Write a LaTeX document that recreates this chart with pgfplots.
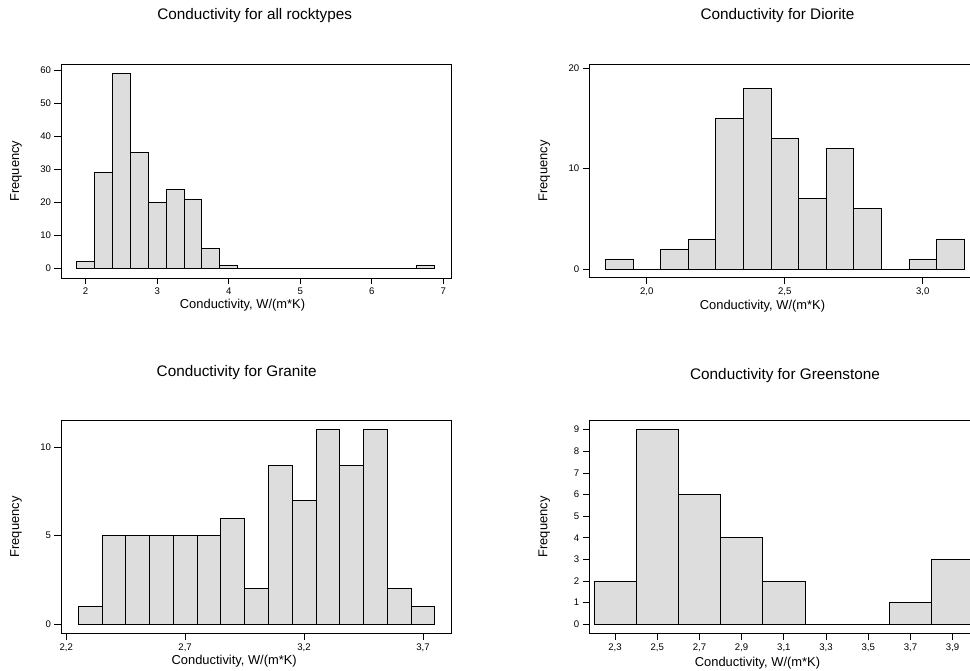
\documentclass[border=0pt]{standalone}
\usepackage{fontspec}
\setmainfont{Liberation Sans}
\usepackage{pgfplots}
\pgfplotsset{compat=1.18}
\definecolor{barfill}{RGB}{221,221,221}
\pgfplotsset{
  hist/.style={
    scale only axis,
    axis line style={black, line width=0.9pt},
    tick align=outside,
    xtick pos=bottom, ytick pos=left,
    major tick length=6.5pt,
    tick style={black, line width=0.8pt},
    /pgf/number format/assume math mode=true,
    tick label style={font=\fontsize{9.6}{10.5}\selectfont},
    label style={font=\fontsize{12.9}{14}\selectfont},
    title style={font=\fontsize{15.3}{17}\selectfont, anchor=base},
    ylabel={Frequency},
    xlabel={Conductivity, W/(m*K)},
    ylabel style={at={(axis description cs:-0.1152,0.5)}, anchor=center},
    xlabel style={anchor=base},
    clip=false,
  },
  bars/.style={ybar interval, fill=barfill, draw=black, line width=0.8pt},
}
\begin{document}
\begin{tikzpicture}[x=1pt,y=1pt]
% ---- Panel 1: all rocktypes
\begin{axis}[hist,
  at={(61pt,393pt)}, anchor=south west,
  width=390.7pt, height=213.7pt,
  xmin=1.655, xmax=7.119, ymin=-2.94, ymax=61.82,
  xtick={2,3,4,5,6,7}, ytick={0,10,20,30,40,50,60},
  title={Conductivity for all rocktypes},
  title style={at={(axis description cs:0.4958,1)}, yshift=39pt},
  xlabel style={at={(axis description cs:0.4646,0)}, yshift=-30.5pt},
]
\addplot[bars] coordinates {
(1.875,2) (2.125,29) (2.375,59) (2.625,35) (2.875,20) (3.125,24) (3.375,21)
(3.625,6) (3.875,1) (4.125,0) (4.375,0) (4.625,0) (4.875,0) (5.125,0) (5.375,0)
(5.625,0) (5.875,0) (6.125,0) (6.375,0) (6.625,1) (6.875,1)};
\end{axis}
% ---- Panel 2: Diorite
\begin{axis}[hist,
  at={(589.3pt,393.3pt)}, anchor=south west,
  width=390.7pt, height=213.4pt,
  xmin=1.792, xmax=3.2076, ymin=-0.864, ymax=20.4,
  xtick={2.0,2.5,3.0}, xticklabels={{2,0},{2,5},{3,0}},
  ytick={0,10,20},
  title={Conductivity for Diorite},
  title style={at={(axis description cs:0.4817,1)}, yshift=38.5pt},
  xlabel style={at={(axis description cs:0.4433,0)}, yshift=-32pt},
]
\addplot[bars] coordinates {
(1.85,1) (1.95,0) (2.05,2) (2.15,3) (2.25,15) (2.35,18) (2.45,13) (2.55,7)
(2.65,12) (2.75,6) (2.85,0) (2.95,1) (3.05,3) (3.15,3)};
\end{axis}
% ---- Panel 3: Granite
\begin{axis}[hist,
  at={(61pt,37.7pt)}, anchor=south west,
  width=390.7pt, height=212.6pt,
  xmin=2.178, xmax=3.821, ymin=-0.528, ymax=11.51,
  xtick={2.2,2.7,3.2,3.7}, xticklabels={{2,2},{2,7},{3,2},{3,7}},
  ytick={0,5,10},
  title={Conductivity for Granite},
  title style={at={(axis description cs:0.4496,1)}, yshift=38.5pt},
  xlabel style={at={(axis description cs:0.4433,0)}, yshift=-31pt},
]
\addplot[bars] coordinates {
(2.25,1) (2.35,5) (2.45,5) (2.55,5) (2.65,5) (2.75,5) (2.85,6) (2.95,2)
(3.05,9) (3.15,7) (3.25,11) (3.35,9) (3.45,11) (3.55,2) (3.65,1) (3.75,1)};
\end{axis}
% ---- Panel 4: Greenstone
\begin{axis}[hist,
  at={(589.3pt,37.7pt)}, anchor=south west,
  width=390.7pt, height=212.6pt,
  xmin=2.178, xmax=4.0297, ymin=-0.416, ymax=9.416,
  xtick={2.3,2.5,2.7,2.9,3.1,3.3,3.5,3.7,3.9},
  xticklabels={{2,3},{2,5},{2,7},{2,9},{3,1},{3,3},{3,5},{3,7},{3,9}},
  ytick={0,1,2,3,4,5,6,7,8,9},
  title={Conductivity for Greenstone},
  title style={at={(axis description cs:0.5009,1)}, yshift=35pt},
  xlabel style={at={(axis description cs:0.4305,0)}, yshift=-33pt},
]
\addplot[bars] coordinates {
(2.2,2) (2.4,9) (2.6,6) (2.8,4) (3.0,2) (3.2,0) (3.4,0) (3.6,1) (3.8,3) (4.0,3)};
\end{axis}
\pgfresetboundingbox
\path[use as bounding box] (0pt,0pt) rectangle (970pt,671pt);
\end{tikzpicture}
\end{document}
